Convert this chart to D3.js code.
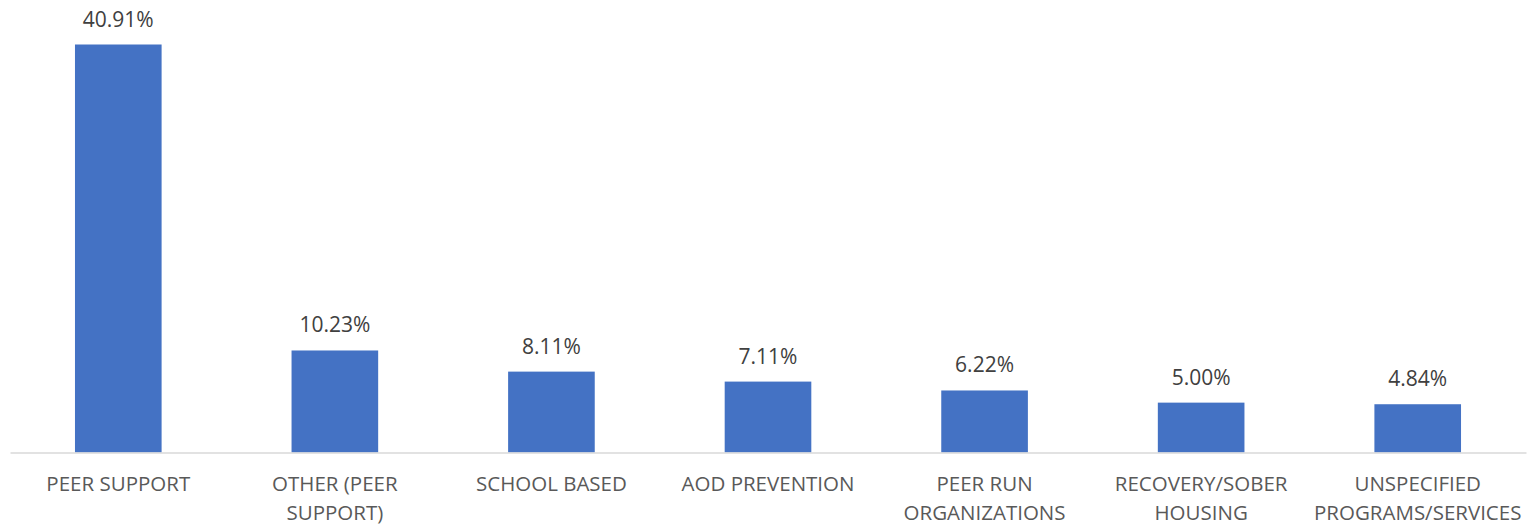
<!DOCTYPE html>
<html>
<head>
<meta charset="utf-8">
<script src="https://cdn.jsdelivr.net/npm/d3@7"></script>
<style>
	body { margin: 0; background: #fff; }
	svg { display: block; font-family: "Open Sans", sans-serif; }
	.axis.x .domain { stroke: #d9d9d9; stroke-width: 1.5; }
	.axis.x text { fill: #595959; font-family: "Open Sans", sans-serif; font-size: 20.5px; }
	.value { fill: #404040; font-size: 21px; }
</style>
</head>
<body>
<div id="chart"></div>
<script>
// categories (line breaks as Excel wrapped them) and shares in percent
var categories = [
	"PEER SUPPORT",
	"OTHER (PEER\nSUPPORT)",
	"SCHOOL BASED",
	"AOD PREVENTION",
	"PEER RUN\nORGANIZATIONS",
	"RECOVERY/SOBER\nHOUSING",
	"UNSPECIFIED\nPROGRAMS/SERVICES"
];
var values = [40.91, 10.23, 8.11, 7.11, 6.22, 5.00, 4.84];

var data = categories.map((c, i) => ({ label: c, value: values[i] }));

var svg = d3.select("#chart").append("svg").attr("width", 1527).attr("height", 524),
    margin = {top: 44.5, right: 1, bottom: 71.5, left: 10},
    width = +svg.attr("width") - margin.left - margin.right,
    height = +svg.attr("height") - margin.top - margin.bottom;

var x = d3.scaleBand().range([0, width]).paddingInner(0.6).paddingOuter(0.3),
    y = d3.scaleLinear().range([height, 0]);

x.domain(data.map(d => d.label));
y.domain([0, d3.max(data, d => d.value)]);

var g = svg.append("g")
    .attr("transform", "translate(" + margin.left + "," + margin.top + ")");

g.selectAll(".bar")
  .data(data)
  .enter().append("rect")
    .attr("class", "bar")
    .attr("fill", "#4472c4")
    .attr("x", d => x(d.label))
    .attr("y", d => y(d.value))
    .attr("width", x.bandwidth())
    .attr("height", d => height - y(d.value));

g.selectAll(".value")
  .data(data)
  .enter().append("text")
    .attr("class", "value")
    .attr("text-anchor", "middle")
    .attr("x", d => x(d.label) + x.bandwidth() / 2)
    .attr("y", d => y(d.value) - 18)
    .text(d => d.value.toFixed(2) + "%");

var xAxis = g.append("g")
    .attr("class", "axis x")
    .attr("transform", "translate(0," + height + ")")
    .call(d3.axisBottom(x).tickSize(0).tickSizeOuter(0));

xAxis.selectAll(".tick text").each(function (d) {
	var t = d3.select(this).text(null).attr("y", 0).attr("dy", null);
	d.split("\n").forEach((line, i) => {
		t.append("tspan")
		  .attr("x", 0)
		  .attr("y", 38 + i * 29)
		  .text(line);
	});
});
</script>
</body>
</html>
